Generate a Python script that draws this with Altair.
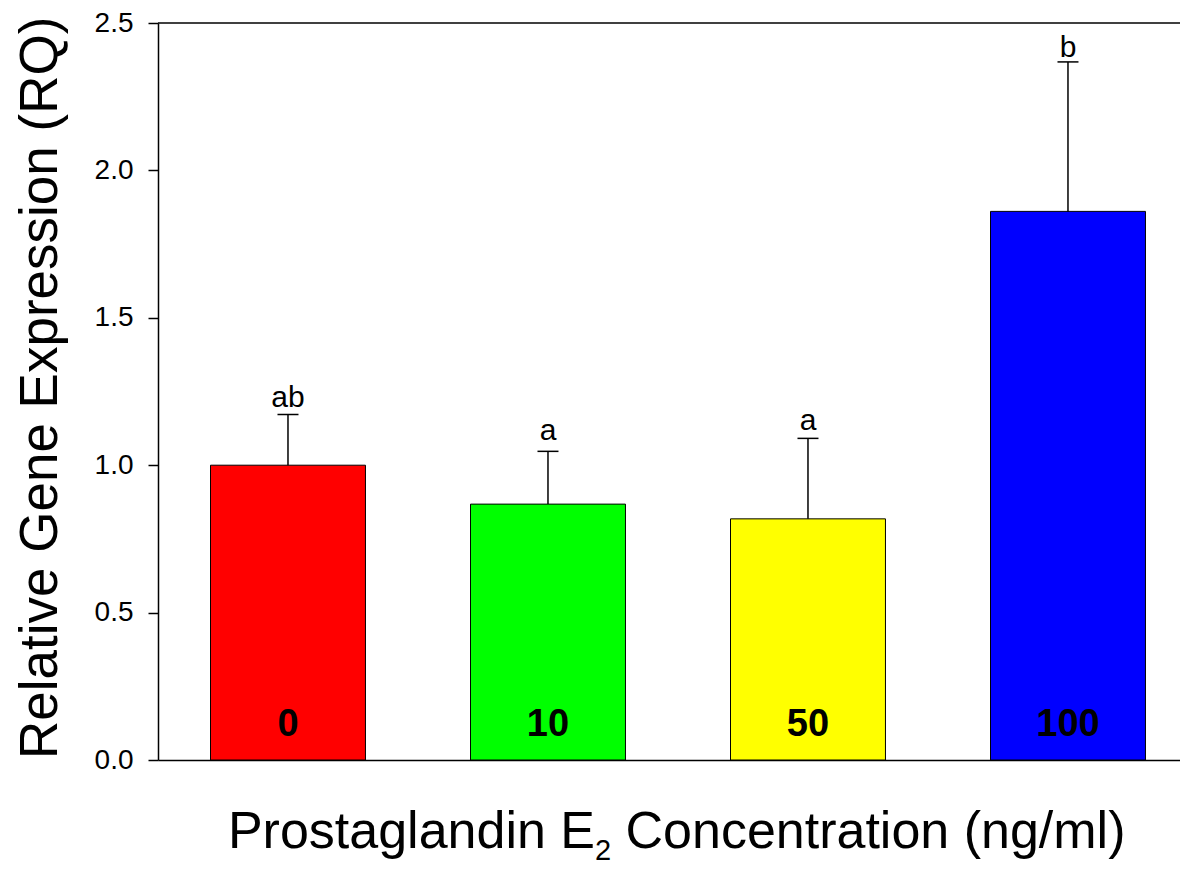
import altair as alt
import pandas as pd

# ---- data ----
concentrations = ["0", "10", "50", "100"]
means = [1.00, 0.868, 0.818, 1.861]
upper = [1.172, 1.047, 1.091, 2.368]
letters = ["ab", "a", "a", "b"]
letter_y = [1.196, 1.084, 1.118, 2.385]
bar_colors = ["#FF0000", "#00FF00", "#FFFF00", "#0000FF"]
y_ticks = [0.0, 0.5, 1.0, 1.5, 2.0, 2.5]
y_top = [2.5]

df = pd.DataFrame({
    "conc": concentrations,
    "mean": means,
    "upper": upper,
    "letter": letters,
    "letter_y": letter_y,
    "color": bar_colors,
})

FONT = "Liberation Sans"
W = 1022
H = 737

x_enc = alt.X(
    "conc:N",
    sort=concentrations,
    scale=alt.Scale(paddingInner=0.404, paddingOuter=0.1674, align=0.6032),
    axis=alt.Axis(labels=False, ticks=False, title=None, domainColor="black",
                  domainWidth=1.5, grid=False),
)
y_scale = alt.Scale(domain=[0, 2.5], nice=False, zero=True)
y_axis = alt.Axis(values=y_ticks, format=".1f", title=None, grid=False,
                  tickSize=10, tickColor="black", tickWidth=1.5,
                  domainColor="black", domainWidth=1.5,
                  labelFont=FONT, labelFontSize=28, labelColor="black",
                  labelPadding=15)

base = alt.Chart(df)

bars = base.mark_bar(stroke="black", strokeWidth=1).encode(
    x=x_enc,
    y=alt.Y("mean:Q", scale=y_scale, axis=y_axis),
    fill=alt.Fill("color:N", scale=None),
)

err_line = base.mark_rule(color="black", strokeWidth=1.5).encode(
    x=alt.X("conc:N", sort=concentrations),
    y="mean:Q",
    y2="upper:Q",
)

err_cap = base.mark_tick(color="black", thickness=1.5, size=21, opacity=1).encode(
    x=alt.X("conc:N", sort=concentrations),
    y="upper:Q",
)

sig = base.mark_text(font=FONT, fontSize=30, color="black",
                     baseline="alphabetic", align="center").encode(
    x=alt.X("conc:N", sort=concentrations),
    y="letter_y:Q",
    text="letter:N",
)

bar_labels = base.mark_text(font=FONT, fontSize=38, fontWeight="bold", color="black",
                            baseline="alphabetic", align="center", dy=-24).encode(
    x=alt.X("conc:N", sort=concentrations),
    y=alt.datum(0),
    text="conc:N",
)

top_border = alt.Chart(pd.DataFrame({"y": y_top})).mark_rule(
    color="black", strokeWidth=1.5
).encode(y="y:Q", x=alt.value(0), x2=alt.value(W))

# axis titles drawn as text (x title needs a subscript)
ytitle = alt.Chart(pd.DataFrame({"t": ["Relative Gene Expression (RQ)"]})).mark_text(
    font=FONT, fontSize=53, color="black", angle=270, align="left", baseline="alphabetic"
).encode(x=alt.value(-101), y=alt.value(736), text="t:N")

xt1 = alt.Chart(pd.DataFrame({"t": ["Prostaglandin E"]})).mark_text(
    font=FONT, fontSize=52, color="black", align="right", baseline="alphabetic"
).encode(x=alt.value(437), y=alt.value(825), text="t:N")

xt2 = alt.Chart(pd.DataFrame({"t": ["2"]})).mark_text(
    font=FONT, fontSize=29, color="black", align="left", baseline="alphabetic"
).encode(x=alt.value(437), y=alt.value(837), text="t:N")

xt3 = alt.Chart(pd.DataFrame({"t": ["Concentration (ng/ml)"]})).mark_text(
    font=FONT, fontSize=52, color="black", align="left", baseline="alphabetic"
).encode(x=alt.value(467.5), y=alt.value(825), text="t:N")

chart = alt.layer(bars, err_line, err_cap, sig, bar_labels, top_border,
                  ytitle, xt1, xt2, xt3).properties(
    width=W,
    height=H,
    autosize=alt.AutoSizeParams(type="none"),
    padding={"left": 150, "top": 15, "right": 0, "bottom": 107},
    background="white",
).configure_view(
    stroke="transparent"
)

chart.save("out.html", embed_options={"renderer": "svg", "actions": False})
